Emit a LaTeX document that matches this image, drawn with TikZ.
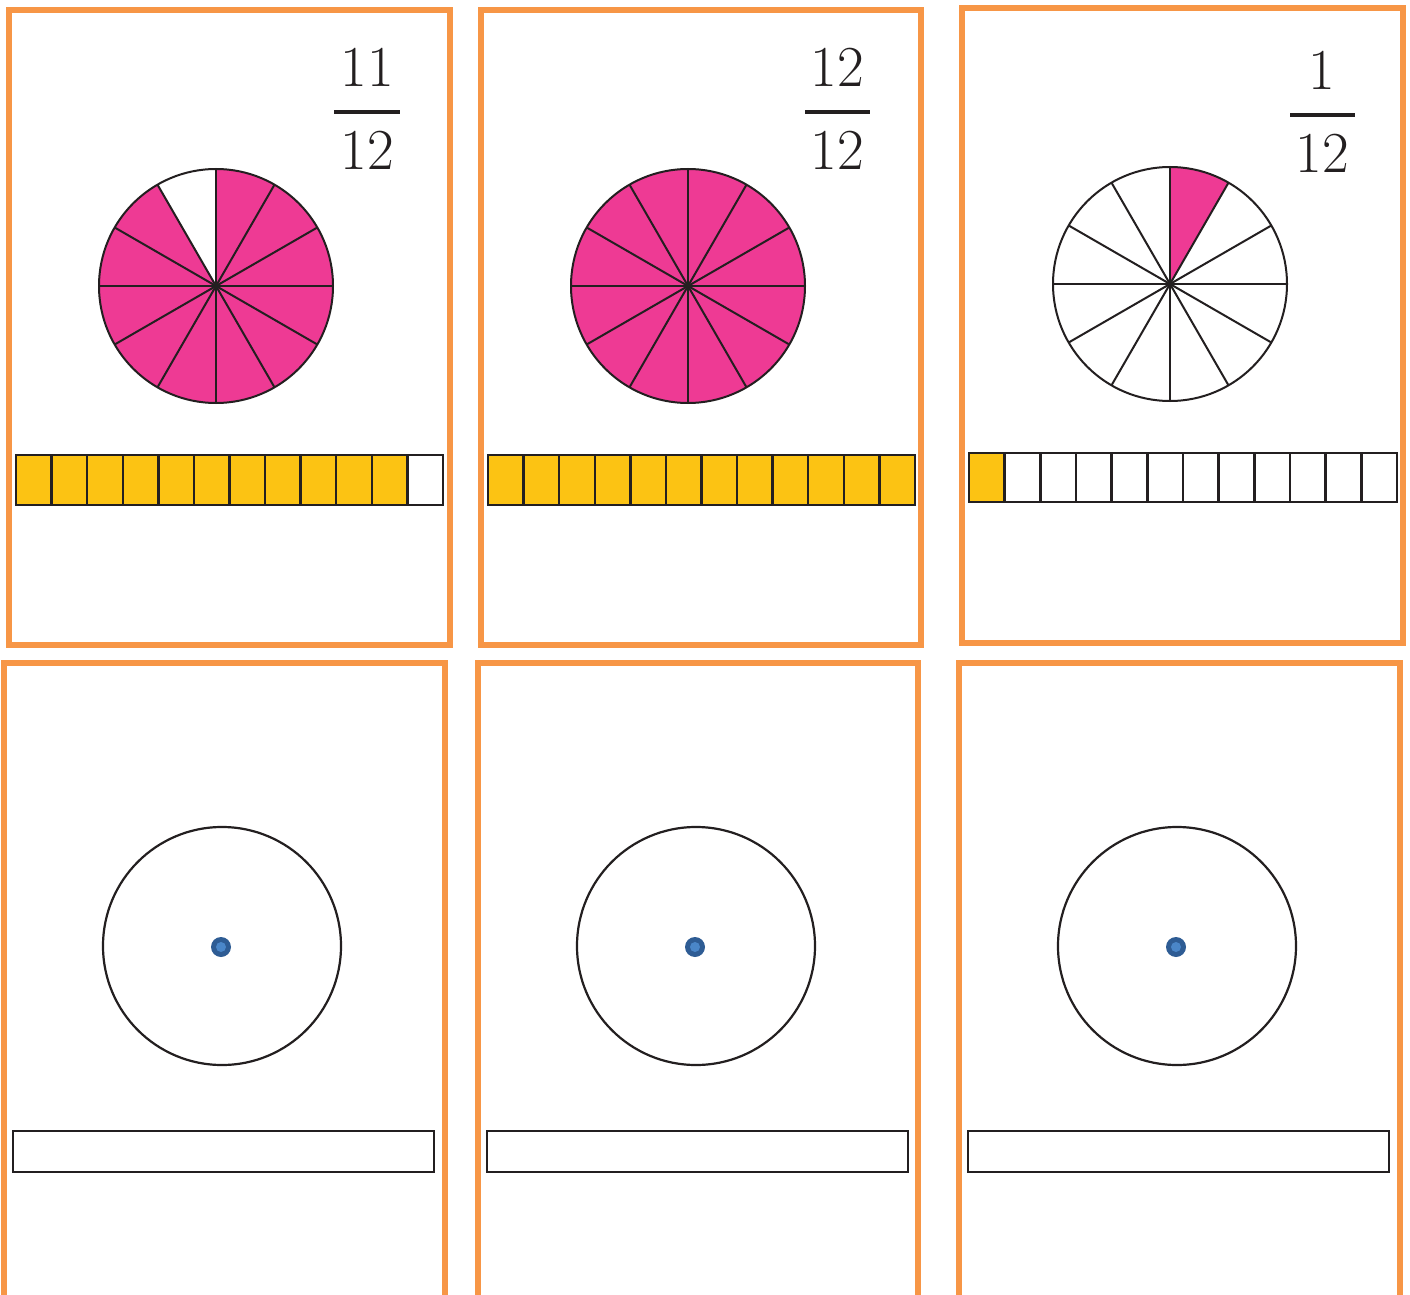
\documentclass[tikz,border=0pt]{standalone}
\definecolor{cardorange}{HTML}{F79646}
\definecolor{piepink}{HTML}{EE3A94}
\definecolor{baryellow}{HTML}{FCC313}
\definecolor{ink}{HTML}{231F20}
\definecolor{dotouter}{HTML}{2E5C94}
\definecolor{dotinner}{HTML}{4A86C8}
\begin{document}
\begin{tikzpicture}[x=0.5pt,y=-0.5pt,
  card/.style={draw=cardorange,line width=2.6pt},
  numtext/.style={inner sep=0pt,font=\fontsize{29}{34}\selectfont,text=ink},
  fracrule/.style={draw=ink,line width=2pt},
  cell/.style={draw=ink,line width=1.2pt},
  pieline/.style={draw=ink,line width=1pt},
  emptybar/.style={draw=ink,line width=1.4pt},
  emptycircle/.style={draw=ink,line width=1.1pt}]
\useasboundingbox (0,0) rectangle (1410,1295);
\clip (0,0) rectangle (1410,1295);
\fill[white] (0,0) rectangle (1410,1295);

% ---- cards ----
\draw[card] (9,10) rectangle (450,645);
\draw[card] (481,10) rectangle (921,645);
\draw[card] (962,8) rectangle (1403,643);
\draw[card] (4,1310) -- (4,663) -- (445,663) -- (445,1310);
\draw[card] (478,1310) -- (478,663) -- (918,663) -- (918,1310);
\draw[card] (959,1310) -- (959,663) -- (1400,663) -- (1400,1310);

% ---- fractions ----
\node[numtext] (n1) at (367,67) {11};
\node[numtext] (d1) at (367,150) {12};
\draw[fracrule] (334,112) -- (400,112);
\node[numtext] (n2) at (837,67) {12};
\node[numtext] (d2) at (837,150) {12};
\draw[fracrule] (805,112) -- (870,112);
\node[numtext] (n3) at (1322,70) {1};
\node[numtext] (d3) at (1322,153) {12};
\draw[fracrule] (1290,115) -- (1355,115);

% ---- pies ----
\begin{scope}[shift={(216,286)},yscale=-1]
  \fill[piepink] (0,0) -- (120:117) arc (120:450:117) -- cycle;
  \foreach \a in {0,30,...,150} \draw[pieline] (\a:117) -- (\a+180:117);
  \draw[pieline] (0,0) circle (117);
  \fill[ink] (0,0) circle (3);
\end{scope}
\begin{scope}[shift={(688,286)},yscale=-1]
  \fill[piepink] (0,0) circle (117);
  \foreach \a in {0,30,...,150} \draw[pieline] (\a:117) -- (\a+180:117);
  \draw[pieline] (0,0) circle (117);
  \fill[ink] (0,0) circle (3);
\end{scope}
\begin{scope}[shift={(1170,284)},yscale=-1]
  \fill[piepink] (0,0) -- (60:117) arc (60:90:117) -- cycle;
  \foreach \a in {0,30,...,150} \draw[pieline] (\a:117) -- (\a+180:117);
  \draw[pieline] (0,0) circle (117);
  \fill[ink] (0,0) circle (3);
\end{scope}

% ---- fraction bars ----
\foreach \i in {0,...,11} {
  \pgfmathsetmacro{\fillc}{\i<11 ? "baryellow" : "white"}
  \draw[cell,fill=\fillc] ({16+\i*427/12},455) rectangle ({16+(\i+1)*427/12},505);
}
\foreach \i in {0,...,11} {
  \draw[cell,fill=baryellow] ({488+\i*427/12},455) rectangle ({488+(\i+1)*427/12},505);
}
\foreach \i in {0,...,11} {
  \pgfmathsetmacro{\fillc}{\i<1 ? "baryellow" : "white"}
  \draw[cell,fill=\fillc] ({969+\i*428/12},453) rectangle ({969+(\i+1)*428/12},502);
}

% ---- bottom cards ----
\foreach \cx/\bx in {222/13,696/487,1177/968} {
  \draw[emptycircle] (\cx,946) circle (119);
  \fill[dotouter] (\cx-1,947) circle (10);
  \fill[dotinner] (\cx-1,947) circle (5);
  \draw[emptybar] (\bx,1131) rectangle (\bx+421,1172);
}
\end{tikzpicture}
\end{document}
